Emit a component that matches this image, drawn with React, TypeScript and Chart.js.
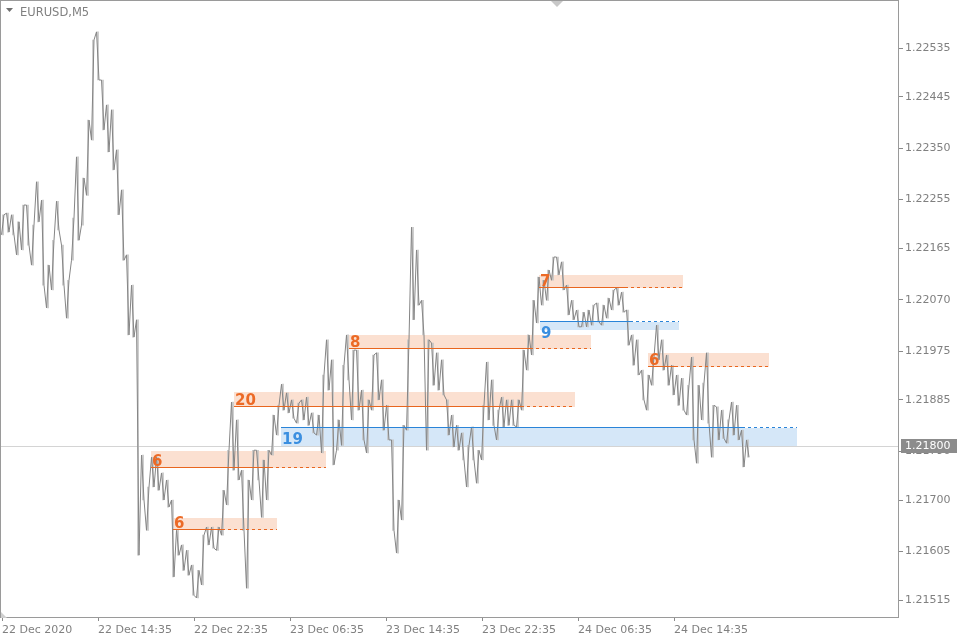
import React, { useEffect, useRef } from "react";
import { Chart, registerables } from "chart.js";

Chart.register(...registerables);

const symbolTitle = "EURUSD,M5";
const barsPerBlock = 5;

// High / low of each 5-bar block (M5 bars, one bar per pixel)
const blockHighs = [
  1.22227, 1.2223, 1.22227, 1.22214, 1.22245, 1.22245, 1.22208, 1.22288, 1.22254, 1.22134,
  1.2218, 1.22252, 1.22171, 1.22106, 1.22221, 1.22334, 1.22295, 1.22402, 1.2255, 1.22565,
  1.22476, 1.2243, 1.22421, 1.22347, 1.22273, 1.22153, 1.22097, 1.22033, 1.21783, 1.21724,
  1.21779, 1.21779, 1.2175, 1.21737, 1.217, 1.21644, 1.21617, 1.21607, 1.2158, 1.2157,
  1.21635, 1.2165, 1.2165, 1.2165, 1.21718, 1.21792, 1.21881, 1.21848, 1.21755, 1.21737,
  1.21792, 1.21792, 1.21774, 1.21792, 1.21857, 1.21875, 1.21914, 1.21898, 1.21885, 1.21879,
  1.21885, 1.2189, 1.21861, 1.21857, 1.21931, 1.21996, 1.21959, 1.21848, 1.21949, 1.22005,
  1.21977, 1.21977, 1.21903, 1.21885, 1.21968, 1.21972, 1.21922, 1.21875, 1.21811, 1.217,
  1.21838, 1.21996, 1.22204, 1.22162, 1.22069, 1.21996, 1.2199, 1.21972, 1.21959, 1.21885,
  1.21857, 1.21838, 1.21824, 1.21801, 1.21835, 1.21792, 1.21875, 1.21955, 1.21922, 1.21866,
  1.2189, 1.21885, 1.21885, 1.21885, 1.21977, 1.22005, 1.22069, 1.22112, 1.22106, 1.22125,
  1.22149, 1.22149, 1.2214, 1.22097, 1.22069, 1.22051, 1.22047, 1.22051, 1.2206, 1.22064,
  1.2206, 1.22073, 1.22088, 1.22092, 1.22084, 1.22051, 1.22005, 1.21996, 1.2194, 1.21931,
  1.21964, 1.22023, 1.21996, 1.21968, 1.21949, 1.21931, 1.21925, 1.21912, 1.21964, 1.21912,
  1.21916, 1.21972, 1.21875, 1.21872, 1.21866, 1.21848, 1.21881, 1.21875, 1.21829, 1.21811,
];
const blockLows = [
  1.2219, 1.22195, 1.2219, 1.22153, 1.22162, 1.22171, 1.22134, 1.22214, 1.22097, 1.22055,
  1.22088, 1.22199, 1.22097, 1.22036, 1.22143, 1.2218, 1.22208, 1.22263, 1.22365, 1.22476,
  1.22384, 1.22343, 1.2231, 1.22227, 1.22143, 1.22005, 1.22001, 1.21598, 1.217, 1.21644,
  1.21724, 1.21718, 1.217, 1.21687, 1.21558, 1.21598, 1.2157, 1.21561, 1.21524, 1.21519,
  1.21543, 1.21617, 1.21611, 1.21607, 1.21635, 1.21691, 1.21755, 1.21737, 1.21644, 1.21537,
  1.217, 1.21737, 1.21668, 1.217, 1.21783, 1.2182, 1.21866, 1.21861, 1.21851, 1.21842,
  1.21848, 1.21838, 1.21824, 1.2182, 1.21787, 1.21903, 1.21765, 1.21792, 1.21801, 1.21922,
  1.21848, 1.21866, 1.21811, 1.21787, 1.21866, 1.21885, 1.21829, 1.21811, 1.21644, 1.21602,
  1.21663, 1.21829, 1.22033, 1.2206, 1.22005, 1.21792, 1.21912, 1.21903, 1.21894, 1.2182,
  1.21798, 1.21792, 1.21774, 1.21724, 1.21774, 1.21731, 1.21774, 1.21848, 1.21838, 1.21811,
  1.21835, 1.21838, 1.21838, 1.21835, 1.21866, 1.2194, 1.21968, 1.22027, 1.2206, 1.22069,
  1.22106, 1.22116, 1.22088, 1.22042, 1.22033, 1.2202, 1.2202, 1.2202, 1.22023, 1.22029,
  1.22023, 1.22036, 1.22051, 1.2206, 1.22047, 1.21986, 1.21949, 1.21931, 1.21885, 1.21866,
  1.21912, 1.21959, 1.2194, 1.21912, 1.21894, 1.21875, 1.21866, 1.21857, 1.21811, 1.21768,
  1.21848, 1.21842, 1.21779, 1.21811, 1.21814, 1.21805, 1.2182, 1.21811, 1.21761, 1.21779,
];

const yTickValues = [
  1.22535, 1.22445, 1.2235, 1.22255, 1.22165, 1.2207, 1.21975, 1.21885, 1.2179, 1.217, 1.21605, 1.21515,
];
const timeTickBars = [1, 97, 193, 289, 385, 481, 577, 673];
const timeTickLabels = [
  "22 Dec 2020",
  "22 Dec 14:35",
  "22 Dec 22:35",
  "23 Dec 06:35",
  "23 Dec 14:35",
  "23 Dec 22:35",
  "24 Dec 06:35",
  "24 Dec 14:35",
];
const currentPrice = 1.218;
const chartShiftBar = 556;

// Supply / demand zones
const zoneKinds = ["supply", "supply", "supply", "demand", "supply", "supply", "demand", "supply"];
const zoneCounts = [6, 6, 20, 19, 8, 7, 9, 6];
const zoneStartBars = [150, 172, 233, 280, 348, 538, 539, 647];
const zoneTouchBars = [269, 221, 520, 741, 529, 624, 629, 674];
const zoneEndBars = [325, 276, 574, 796, 590, 682, 678, 768];
const zoneTops = [1.2179, 1.21667, 1.21899, 1.21833, 1.22005, 1.22116, 1.22029, 1.21972];
const zoneBottoms = [1.21759, 1.21644, 1.21872, 1.218, 1.21979, 1.22092, 1.22014, 1.21946];

const FONT = "'DejaVu Sans', Verdana, sans-serif";
const AXIS_GREY = "#8a8a8a";

function buildPricePath() {
  const pts: { x: number; y: number }[] = [];
  const n = blockHighs.length;
  for (let i = 0; i < n; i++) {
    const mid = (blockHighs[i] + blockLows[i]) / 2;
    const nextMid = i + 1 < n ? (blockHighs[i + 1] + blockLows[i + 1]) / 2 : mid;
    const x0 = i * barsPerBlock + 0.5;
    const x1 = i * barsPerBlock + 3;
    if (nextMid > mid) {
      pts.push({ x: x0, y: blockLows[i] });
      pts.push({ x: x1, y: blockHighs[i] });
    } else {
      pts.push({ x: x0, y: blockHighs[i] });
      pts.push({ x: x1, y: blockLows[i] });
    }
  }
  return pts;
}

function buildBlockBars() {
  return blockHighs.map((h, i) => ({ x: i * barsPerBlock + 2, y: [blockLows[i], h] }));
}

const zonesPlugin = {
  id: "zones",
  beforeDatasetsDraw(chart: any) {
    const { ctx, chartArea } = chart;
    const xs = chart.scales.x;
    const ys = chart.scales.y;
    ctx.save();
    const by = Math.round(ys.getPixelForValue(currentPrice)) + 0.5;
    ctx.strokeStyle = "#d4d4d4";
    ctx.lineWidth = 1;
    ctx.beginPath();
    ctx.moveTo(chartArea.left, by);
    ctx.lineTo(chartArea.right, by);
    ctx.stroke();
    for (let i = 0; i < zoneCounts.length; i++) {
      const x0 = Math.round(xs.getPixelForValue(zoneStartBars[i]));
      const x1 = Math.round(xs.getPixelForValue(zoneEndBars[i]));
      const yTop = Math.round(ys.getPixelForValue(zoneTops[i]));
      const yBot = Math.round(ys.getPixelForValue(zoneBottoms[i]));
      ctx.fillStyle = zoneKinds[i] === "supply" ? "#fbe0d1" : "#d5e7f8";
      ctx.fillRect(x0, yTop, x1 - x0, yBot - yTop);
    }
    ctx.restore();
  },
  afterDatasetsDraw(chart: any) {
    const { ctx } = chart;
    const xs = chart.scales.x;
    const ys = chart.scales.y;
    ctx.save();
    for (let i = 0; i < zoneCounts.length; i++) {
      const supply = zoneKinds[i] === "supply";
      const color = supply ? "#e8661f" : "#2a84d8";
      const x0 = Math.round(xs.getPixelForValue(zoneStartBars[i]));
      const xt = Math.round(xs.getPixelForValue(zoneTouchBars[i]));
      const x1 = Math.round(xs.getPixelForValue(zoneEndBars[i]));
      const ly = Math.round(ys.getPixelForValue(supply ? zoneBottoms[i] : zoneTops[i])) - 0.5;
      ctx.strokeStyle = color;
      ctx.lineWidth = 1;
      ctx.setLineDash([]);
      ctx.beginPath();
      ctx.moveTo(x0, ly);
      ctx.lineTo(xt, ly);
      ctx.stroke();
      ctx.setLineDash([3, 3]);
      ctx.beginPath();
      ctx.moveTo(xt, ly);
      ctx.lineTo(x1, ly);
      ctx.stroke();
      ctx.setLineDash([]);
      ctx.fillStyle = supply ? "#ec6a26" : "#3b8fe0";
      ctx.font = "bold 15px " + FONT;
      ctx.textAlign = "left";
      ctx.textBaseline = "alphabetic";
      if (supply) {
        ctx.fillText(String(zoneCounts[i]), x0 + 1, ly - 1.5);
      } else {
        ctx.fillText(String(zoneCounts[i]), x0 + 1, ly + 16);
      }
    }
    ctx.restore();
  },
  afterDraw(chart: any) {
    const { ctx, chartArea } = chart;
    const xs = chart.scales.x;
    const ys = chart.scales.y;
    ctx.save();
    ctx.strokeStyle = "#9a9a9a";
    ctx.lineWidth = 1;
    ctx.strokeRect(
      chartArea.left - 0.5,
      chartArea.top - 0.5,
      chartArea.right - chartArea.left,
      chartArea.bottom - chartArea.top
    );
    ctx.fillStyle = "#707070";
    ctx.beginPath();
    ctx.moveTo(6, 8);
    ctx.lineTo(13, 8);
    ctx.lineTo(9.5, 12);
    ctx.closePath();
    ctx.fill();
    ctx.fillStyle = "#808080";
    ctx.font = "11.5px " + FONT;
    ctx.textAlign = "left";
    ctx.textBaseline = "alphabetic";
    ctx.fillText(symbolTitle, 20, 16);
    const sx = xs.getPixelForValue(chartShiftBar);
    ctx.fillStyle = "#c8c8c8";
    ctx.beginPath();
    ctx.moveTo(sx - 6, chartArea.top);
    ctx.lineTo(sx + 6, chartArea.top);
    ctx.lineTo(sx, chartArea.top + 6);
    ctx.closePath();
    ctx.fill();
    ctx.fillStyle = "#d0d0d0";
    ctx.beginPath();
    ctx.moveTo(chartArea.left, chartArea.bottom - 6);
    ctx.lineTo(chartArea.left, chartArea.bottom);
    ctx.lineTo(chartArea.left + 6, chartArea.bottom);
    ctx.closePath();
    ctx.fill();
    const py = Math.round(ys.getPixelForValue(currentPrice));
    ctx.fillStyle = "#8c8c8c";
    ctx.fillRect(chartArea.right + 2, py - 7, 56, 14);
    ctx.fillStyle = "#ffffff";
    ctx.font = "11px " + FONT;
    ctx.textBaseline = "middle";
    ctx.fillText(currentPrice.toFixed(5), chartArea.right + 6, py + 0.5);
    ctx.restore();
  },
};

export default function App() {
  const canvasRef = useRef<HTMLCanvasElement | null>(null);

  useEffect(() => {
    if (!canvasRef.current) return;
    const chart = new Chart(canvasRef.current, {
      type: "line",
      data: {
        datasets: [
          {
            type: "bar",
            label: "range",
            data: buildBlockBars() as any,
            backgroundColor: "#c4c4c4",
            borderWidth: 0,
            barThickness: 1,
            order: 2,
          } as any,
          {
            type: "line",
            label: symbolTitle,
            data: buildPricePath(),
            borderColor: "#858585",
            borderWidth: 1,
            pointRadius: 0,
            tension: 0,
            fill: false,
            order: 1,
          },
        ],
      },
      options: {
        animation: false,
        responsive: true,
        maintainAspectRatio: false,
        layout: { padding: { left: 1, top: 1, right: 0, bottom: 0 } },
        plugins: { legend: { display: false }, tooltip: { enabled: false } },
        scales: {
          x: {
            type: "linear",
            min: 0,
            max: 898,
            offset: false,
            afterBuildTicks: (scale: any) => {
              scale.ticks = timeTickBars.map((v) => ({ value: v }));
            },
            afterFit: (scale: any) => {
              scale.height = 22;
              scale.paddingLeft = 0;
              scale.paddingRight = 0;
              scale.paddingTop = 0;
              scale.paddingBottom = 0;
            },
            border: { display: false },
            grid: { drawOnChartArea: false, drawTicks: true, tickLength: 3, color: AXIS_GREY, offset: false },
            ticks: {
              autoSkip: false,
              maxRotation: 0,
              minRotation: 0,
              align: "start",
              padding: 3,
              color: "#808080",
              font: { family: FONT, size: 11 },
              callback: (_v: any, i: number) => timeTickLabels[i],
            },
          },
          y: {
            type: "linear",
            position: "right",
            min: 1.21482,
            max: 1.22622,
            afterBuildTicks: (scale: any) => {
              scale.ticks = yTickValues.map((v) => ({ value: v }));
            },
            afterFit: (scale: any) => {
              scale.width = 61;
              scale.paddingTop = 0;
              scale.paddingBottom = 0;
              scale.paddingLeft = 0;
              scale.paddingRight = 0;
            },
            border: { display: false },
            grid: { drawOnChartArea: false, drawTicks: true, tickLength: 4, color: AXIS_GREY },
            ticks: {
              padding: 2,
              color: "#808080",
              font: { family: FONT, size: 11 },
              callback: (v: any) => Number(v).toFixed(5),
            },
          },
        },
      },
      plugins: [zonesPlugin],
    });
    return () => chart.destroy();
  }, []);

  return (
    <div style={{ position: "absolute", left: 0, top: 0, width: 960, height: 640, background: "#ffffff" }}>
      <canvas ref={canvasRef} />
    </div>
  );
}
